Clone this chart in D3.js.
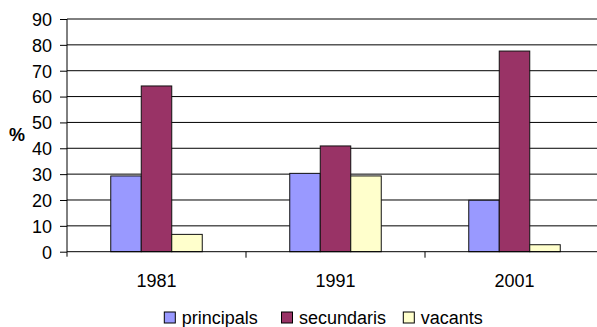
<!DOCTYPE html>
<html>
<head>
<meta charset="utf-8">
<script src="https://cdn.jsdelivr.net/npm/d3@7"></script>
<style>
  html, body { margin: 0; padding: 0; background: #fff; }
  svg { display: block; font-family: Arial, "Liberation Sans", sans-serif; }
</style>
</head>
<body>
<svg id="chart" width="597" height="327"></svg>
<script>
// Categories (census years) and series (% of dwellings by type)
const years = ["1981", "1991", "2001"];
const seriesNames = ["principals", "secundaris", "vacants"];
const principals = [29.3, 30.3, 19.9];
const secundaris = [64.1, 40.9, 77.6];
const vacants = [6.7, 29.3, 2.7];
const yTicks = [0, 10, 20, 30, 40, 50, 60, 70, 80, 90];
const colors = ["#9999FF", "#993366", "#FFFFCC"];

const values = [principals, secundaris, vacants];
const rows = years.map((yr, i) => ({
  year: yr,
  vals: seriesNames.map((s, k) => ({ key: s, value: values[k][i] }))
}));

const svg = d3.select("#chart");
const plotLeft = 67, plotRight = 604, plotTop = 19, plotBottom = 251.7;

const x = d3.scaleBand().domain(years).range([plotLeft, plotRight]).paddingInner(0).paddingOuter(0);
const groupW = 91.5;
const x1 = d3.scaleBand().domain(seriesNames).range([0, groupW]);
const y = d3.scaleLinear().domain([0, 90]).range([plotBottom, plotTop]);

// Horizontal gridlines
svg.append("g").selectAll("line").data(yTicks.filter(t => t > 0)).join("line")
  .attr("x1", plotLeft).attr("x2", plotRight)
  .attr("y1", d => y(d)).attr("y2", d => y(d))
  .attr("stroke", "#000").attr("stroke-width", 1);

// Bars
const groups = svg.append("g").selectAll("g").data(rows).join("g")
  .attr("transform", d => `translate(${x(d.year) + (x.bandwidth() - groupW) / 2},0)`);
groups.selectAll("rect").data(d => d.vals).join("rect")
  .attr("x", d => x1(d.key))
  .attr("width", x1.bandwidth())
  .attr("y", d => y(d.value))
  .attr("height", d => y(0) - y(d.value))
  .attr("fill", (d, i) => colors[i])
  .attr("stroke", "#111").attr("stroke-width", 1);

// Y axis
const yAxis = d3.axisLeft(y).tickValues(yTicks).tickSize(7).tickPadding(8).tickFormat(d3.format("d"));
const gy = svg.append("g").attr("transform", `translate(${plotLeft},0)`).call(yAxis);
gy.select(".domain").attr("d", `M0,${plotTop}V${plotBottom + 5}`).attr("stroke", "#000");
gy.selectAll(".tick line").attr("stroke", "#000");
gy.selectAll(".tick text").attr("font-size", 18).attr("fill", "#000")
  .attr("font-family", "Arial, 'Liberation Sans', sans-serif").attr("dy", "0.35em");

// X axis: category boundary ticks
const gx = svg.append("g").attr("transform", `translate(0,${plotBottom})`);
gx.append("line").attr("x1", plotLeft).attr("x2", plotRight).attr("y1", 0).attr("y2", 0).attr("stroke", "#000");
gx.selectAll("line.b").data(years).join("line").attr("class", "b")
  .attr("x1", d => x(d) + x.bandwidth()).attr("x2", d => x(d) + x.bandwidth())
  .attr("y1", 0).attr("y2", 6).attr("stroke", "#000");
gx.selectAll("text").data(years).join("text")
  .attr("x", d => x(d) + x.bandwidth() / 2).attr("y", 35.5)
  .attr("text-anchor", "middle").attr("font-size", 18).attr("fill", "#000")
  .text(d => d);

// Y axis title
svg.append("text").attr("x", 17).attr("y", 140.5).attr("text-anchor", "middle")
  .attr("font-size", 18).attr("font-weight", "bold").text("%");

// Legend
const legendX = [164.3, 281.5, 403.3];
const lg = svg.append("g").selectAll("g").data(seriesNames).join("g")
  .attr("transform", (d, i) => `translate(${legendX[i]},312)`);
lg.append("rect").attr("width", 11).attr("height", 11)
  .attr("fill", (d, i) => colors[i]).attr("stroke", "#000").attr("stroke-width", 1);
lg.append("text").attr("x", 17.5).attr("y", 12).attr("font-size", 18).attr("fill", "#000").text(d => d);
</script>
</body>
</html>
